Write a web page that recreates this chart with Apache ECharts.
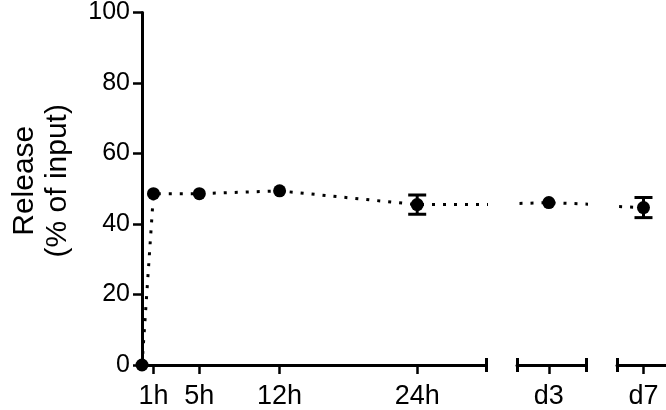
<!DOCTYPE html>
<html>
<head>
<meta charset="utf-8">
<script src="https://cdn.jsdelivr.net/npm/echarts@6/dist/echarts.min.js"></script>
<style>
html, body { margin: 0; padding: 0; background: #fff; }
#chart { width: 666px; height: 410px; }
</style>
</head>
<body>
<div id="chart"></div>
<script>
// time points (hours) and release, % of input
const hours = [0, 1, 5, 12, 24, 72, 168];
const release = [0, 48.6, 48.6, 49.4, 45.5, 46.0, 44.6];
const sem = [0, 0.6, 0.6, 0.6, 2.7, 0.6, 2.85];
const tickHours = [1, 5, 12, 24, 72, 168];
const tickLabels = ['1h', '5h', '12h', '24h', 'd3', 'd7'];
const yRange = [0, 100];
const yStep = 20;

// broken x axis: one grid per piece
const pieces = [
    { min: 0, max: 30, left: 135, right: 180, caps: [30] },
    { min: 48, max: 100, left: 517, right: 80, caps: [48, 100] },
    { min: 148, max: 185, left: 617, right: 0, caps: [148] },
];

const font = 'Liberation Sans, Arial, Helvetica, sans-serif';
const black = '#000';
const markerSize = 13;

const points = hours.map((h, i) => [h, release[i]]);
const bars = hours.map((h, i) => [h, release[i] - sem[i], release[i] + sem[i]]);

const grid = [], xAxis = [], yAxis = [], series = [];

pieces.forEach((p, i) => {
    const ticks = tickHours.filter(h => h >= p.min && h <= p.max);
    grid.push({ left: p.left, right: p.right, top: 12, bottom: 44 });
    xAxis.push({
        type: 'value', gridIndex: i, position: 'bottom', min: p.min, max: p.max,
        splitLine: { show: false },
        axisLine: { onZero: false, lineStyle: { color: black, width: 3 } },
        axisTick: { length: 9, customValues: ticks, lineStyle: { color: black, width: 2.5 } },
        axisLabel: {
            customValues: ticks,
            formatter: v => tickLabels[tickHours.indexOf(v)],
            color: black, fontSize: 27, fontFamily: font, margin: 18,
        },
    });
    // end caps of each axis piece
    xAxis.push({
        type: 'value', gridIndex: i, position: 'bottom', min: p.min, max: p.max, offset: 7,
        splitLine: { show: false },
        axisLine: { show: false, onZero: false },
        axisLabel: { show: false },
        axisTick: { inside: true, length: 14, customValues: p.caps, lineStyle: { color: black, width: 3 } },
    });
    yAxis.push({
        type: 'value', gridIndex: i, min: yRange[0], max: yRange[1], interval: yStep,
        show: i === 0,
        name: i === 0 ? 'Release\n(% of input)' : '',
        nameLocation: 'middle', nameGap: 101,
        nameTextStyle: {
            color: black, fontSize: 30, fontFamily: font, lineHeight: 33,
            align: 'center', verticalAlign: 'middle', padding: [0, 0, 0, 16],
        },
        splitLine: { show: false },
        axisLine: { show: true, onZero: false, lineStyle: { color: black, width: 3 } },
        axisTick: { length: 9, lineStyle: { color: black, width: 2.5 } },
        axisLabel: { color: black, fontSize: 25, fontFamily: font, margin: 12 },
    });
    series.push({
        type: 'line', xAxisIndex: 2 * i, yAxisIndex: i, data: points,
        symbol: 'circle', symbolSize: markerSize, clip: true,
        itemStyle: { color: black },
        lineStyle: { color: black, width: 3, type: [3, 8] },
        z: 3,
    });
    series.push({
        type: 'custom', xAxisIndex: 2 * i, yAxisIndex: i, data: bars, clip: true, z: 4,
        renderItem: (params, api) => {
            const x = api.value(0);
            const lo = api.coord([x, api.value(1)]);
            const hi = api.coord([x, api.value(2)]);
            if (lo[1] - hi[1] < markerSize) return null;
            const w = 9;
            const style = { stroke: black, lineWidth: 3 };
            return {
                type: 'group',
                children: [
                    { type: 'line', shape: { x1: lo[0], y1: lo[1], x2: hi[0], y2: hi[1] }, style },
                    { type: 'line', shape: { x1: lo[0] - w, y1: lo[1], x2: lo[0] + w, y2: lo[1] }, style },
                    { type: 'line', shape: { x1: hi[0] - w, y1: hi[1], x2: hi[0] + w, y2: hi[1] }, style },
                ],
            };
        },
    });
});

const chart = echarts.init(document.getElementById('chart'));
chart.setOption({ animation: false, grid, xAxis, yAxis, series });
</script>
</body>
</html>
